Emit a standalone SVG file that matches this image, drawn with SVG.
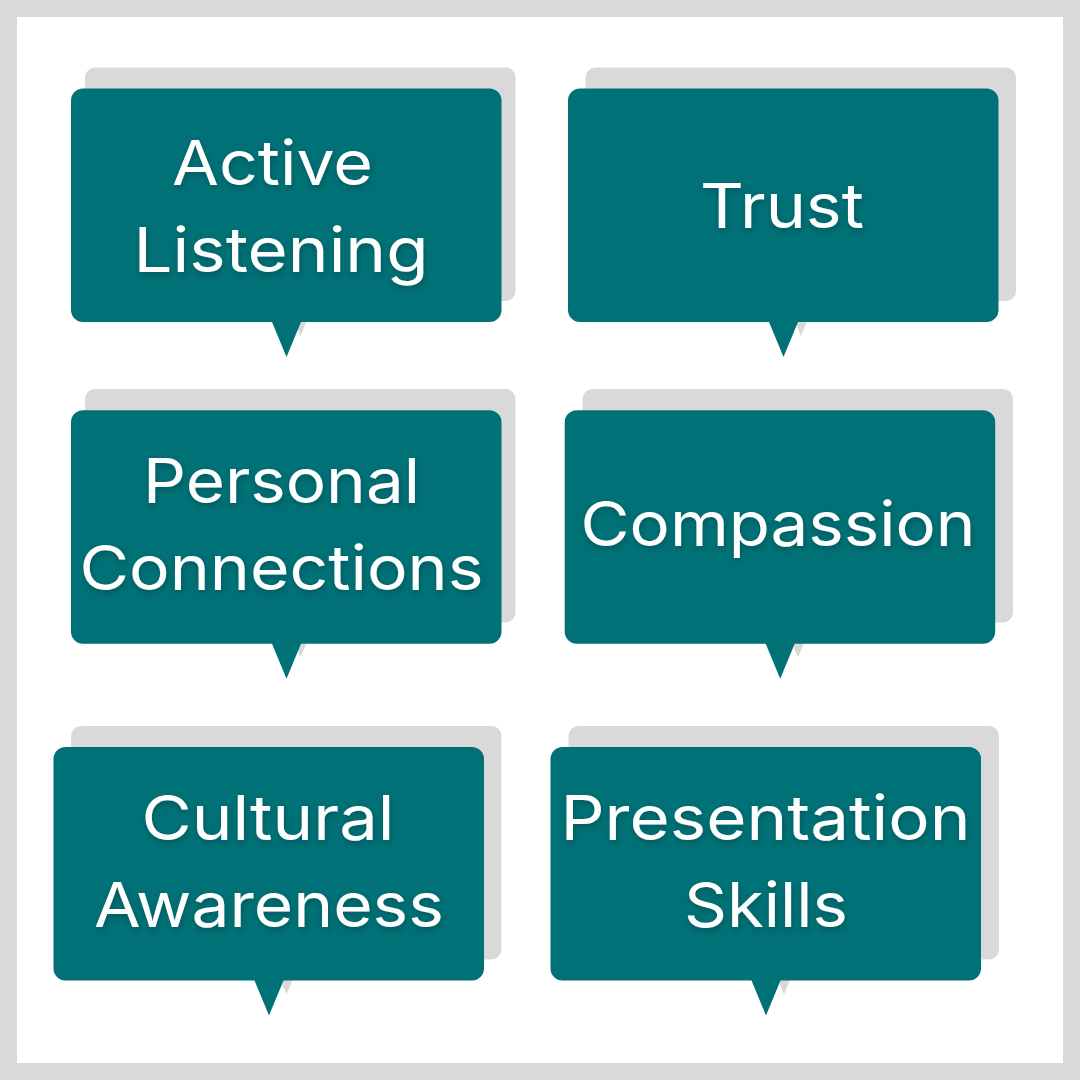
<svg xmlns="http://www.w3.org/2000/svg" width="1080" height="1080" viewBox="0 0 1080 1080">
<defs>
<filter id="ts" x="-10%" y="-30%" width="120%" height="170%"><feDropShadow dx="1" dy="3" stdDeviation="3" flood-color="#000" flood-opacity="0.22"/></filter>
<path id="back" d="M10 0H420.500a10 10 0 0 1 10 10V223.400a10 10 0 0 1-10 10H230L215.500 268.500L201 233.400H10a10 10 0 0 1-10-10V10a10 10 0 0 1 10-10Z"/>
<path id="front" d="M12 0H418.500a12 12 0 0 1 12 12V221.400a12 12 0 0 1-12 12H230L215.500 268.500L201 233.400H12a12 12 0 0 1-12-12V12a12 12 0 0 1 12-12Z"/>
</defs>
<style>
.b{fill:#d9d9d9}
.f{fill:#007176}
text{font-family:"Inter","Noto Sans","Liberation Sans",sans-serif;font-size:62px;font-weight:400;fill:#fff;filter:url(#ts)}
</style>
<rect x="8.500" y="8.500" width="1063" height="1063" fill="#fff" stroke="#d9d9d9" stroke-width="17"/>
<g id="node-active-listening">
<use href="#back" class="b" x="85" y="67.500"/><use href="#front" class="f" x="71" y="88.500"/>
<text x="172" y="185" textLength="201" lengthAdjust="spacingAndGlyphs">Active</text>
<text x="133.500" y="272" textLength="295" lengthAdjust="spacingAndGlyphs">Listening</text>
</g>
<g id="node-trust">
<use href="#back" class="b" x="585.500" y="67.500"/><use href="#front" class="f" x="568" y="88.500"/>
<text x="700" y="228" textLength="164" lengthAdjust="spacingAndGlyphs">Trust</text>
</g>
<g id="node-personal-connections">
<use href="#back" class="b" x="85" y="389"/><use href="#front" class="f" x="71" y="410.300"/>
<text x="143" y="503" textLength="277" lengthAdjust="spacingAndGlyphs">Personal</text>
<text x="79.500" y="590" textLength="404" lengthAdjust="spacingAndGlyphs">Connections</text>
</g>
<g id="node-compassion">
<use href="#back" class="b" x="582.500" y="389"/><use href="#front" class="f" x="564.700" y="410.300"/>
<text x="580.500" y="546" textLength="395" lengthAdjust="spacingAndGlyphs">Compassion</text>
</g>
<g id="node-cultural-awareness">
<use href="#back" class="b" x="71" y="726"/><use href="#front" class="f" x="53.500" y="747"/>
<text x="141.500" y="840" textLength="253" lengthAdjust="spacingAndGlyphs">Cultural</text>
<text x="94" y="927" textLength="350" lengthAdjust="spacingAndGlyphs">Awareness</text>
</g>
<g id="node-presentation-skills">
<use href="#back" class="b" x="568.500" y="726"/><use href="#front" class="f" x="550.500" y="747"/>
<text x="560.500" y="840" textLength="410" lengthAdjust="spacingAndGlyphs">Presentation</text>
<text x="684" y="927" textLength="164" lengthAdjust="spacingAndGlyphs">Skills</text>
</g>
<g id="connectors"/>
</svg>
